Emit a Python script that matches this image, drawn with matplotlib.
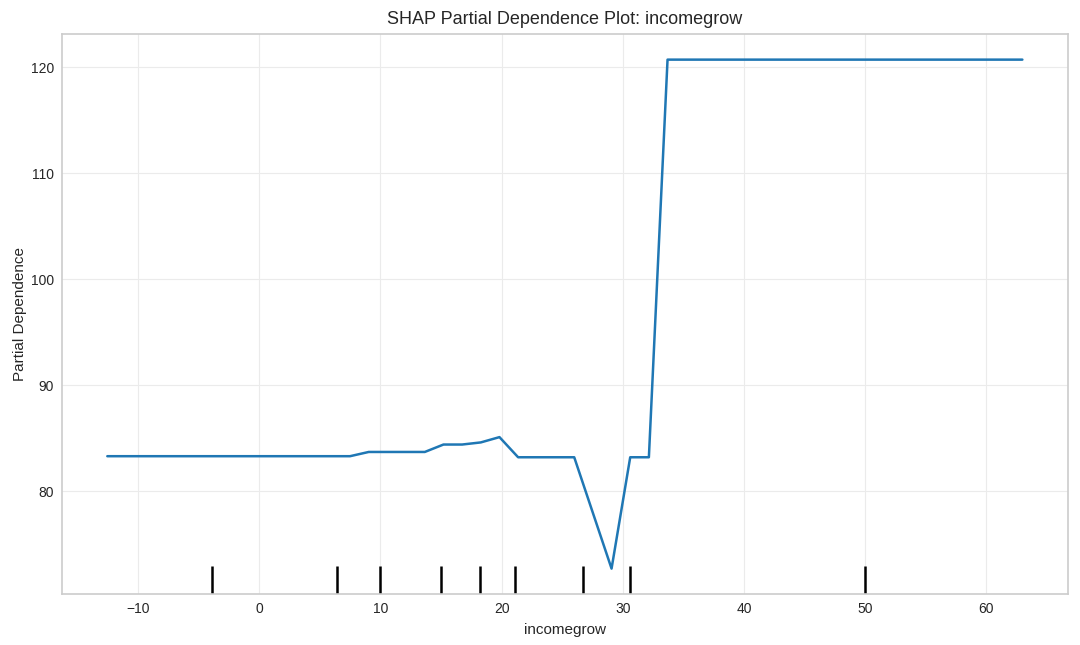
import matplotlib
matplotlib.use("Agg")
import matplotlib.pyplot as plt

# partial dependence curve (breakpoints)
grid_x = [-12.54, 7.49, 9.03, 13.66, 15.2, 16.74, 18.28, 19.82, 21.36, 25.99, 29.07, 30.61, 32.15, 33.69, 62.97]
pd_y = [83.3, 83.3, 83.7, 83.7, 84.4, 84.4, 84.6, 85.1, 83.2, 83.2, 72.7, 83.2, 83.2, 120.7, 120.7]

# deciles of the feature
deciles = [-3.9, 6.4, 10.0, 15.0, 18.2, 21.1, 26.7, 30.6, 50.0]

feature = 'incomegrow'

plt.style.use('seaborn-v0_8-whitegrid')
plt.rcParams['font.family'] = ['Liberation Sans', 'DejaVu Sans']

fig, ax = plt.subplots(figsize=(10.8, 6.45), dpi=100)
fig.subplots_adjust(left=0.057, right=0.989, top=0.947, bottom=0.079)

ax.plot(grid_x, pd_y, color='#1f77b4', lw=1.8)
ax.vlines(deciles, 0, 0.05, transform=ax.get_xaxis_transform(), color='k', lw=1.8)

ax.grid(True, color='#ebebeb', lw=0.8)
for s in ax.spines.values():
    s.set_visible(True)
    s.set_color('#cccccc')
    s.set_linewidth(1.2)

ax.tick_params(labelsize=10, colors='#262626', pad=5.5)
ax.set_xlabel(feature, fontsize=11, color='#262626', labelpad=5)
ax.set_ylabel('Partial Dependence', fontsize=11, color='#262626', labelpad=3)
ax.set_title(f'SHAP Partial Dependence Plot: {feature}', fontsize=13, color='#262626', pad=7)

fig.savefig('out.png', dpi=100)
